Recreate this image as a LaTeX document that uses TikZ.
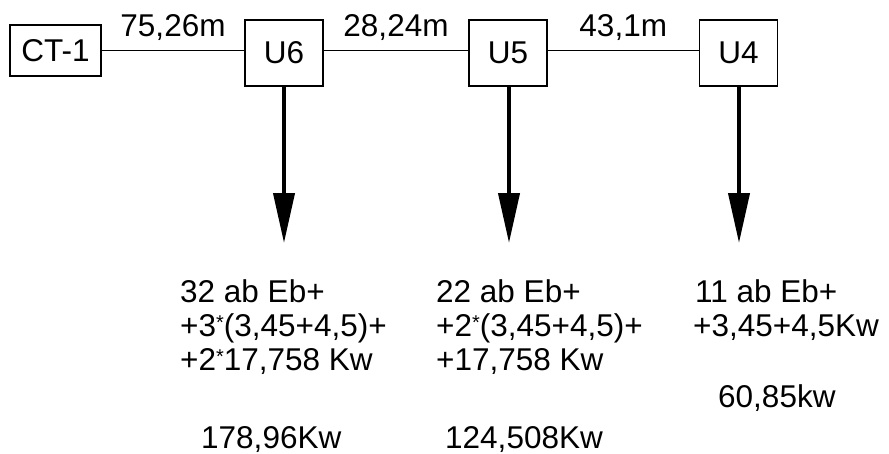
\documentclass[tikz,border=0pt]{standalone}
\usepackage{fontspec}
\setmainfont{Liberation Sans}
\usetikzlibrary{arrows.meta}
\newcommand{\smallast}{\raisebox{7pt}{\fontsize{20}{20}\selectfont *}}
\begin{document}
\begin{tikzpicture}[x=1pt,y=-1pt,
  txt/.style={font=\fontsize{31.5}{34}\selectfont, inner sep=0pt},
  box/.style={txt, draw, line width=1.8pt, minimum width=78pt, minimum height=66pt},
  wire/.style={line width=1.8pt},
  dist/.style={txt, midway, anchor=base, yshift=14pt},
  feed/.style={line width=4pt, -{Triangle[width=21pt,length=50pt]}},
  line/.style={txt, anchor=base west}]
\useasboundingbox (0,0) rectangle (889,453);
% boxes
\node[box, minimum width=91pt, minimum height=51pt] (ct) at (55.5,50.5) {CT-1};
\node[box] (u6) at (284,53) {U6};
\node[box] (u5) at (508,53) {U5};
\node[box] (u4) at (738.5,53) {U4};
% connecting lines
\draw[wire] (ct.east) -- (ct.east -| u6.west) node[dist] {75,26m};
\draw[wire] (u6.east |- ct.east) -- (ct.east -| u5.west) node[dist] {28,24m};
\draw[wire] (u5.east |- ct.east) -- (ct.east -| u4.west) node[dist] {43,1m};
% arrow ends
\coordinate (t6) at (284,243);
\coordinate (t5) at (509,243);
\coordinate (t4) at (739,243);
\draw[feed] (u6.south) -- (t6);
\draw[feed] (u5.south -| t5) -- (t5);
\draw[feed] (u4.south -| t4) -- (t4);
% load texts
\node[line] (a1) at (180,302) {32 ab Eb+};
\node[line] (a2) at (180,336) {+3\smallast(3,45+4,5)+};
\node[line] (a3) at (180,370) {+2\smallast17,758 Kw};
\node[line] (b1) at (436,302) {22 ab Eb+};
\node[line] (b2) at (436,336) {+2\smallast(3,45+4,5)+};
\node[line] (b3) at (436,370) {+17,758 Kw};
\node[line] (c1) at (695,302) {11 ab Eb+};
\node[line] (c2) at (693,336) {+3,45+4,5Kw};
% totals
\node[line] (s1) at (201,448) {178,96Kw};
\node[line] (s2) at (445,448) {124,508Kw};
\node[line] (s3) at (718,407) {60,85kw};
\end{tikzpicture}
\end{document}
